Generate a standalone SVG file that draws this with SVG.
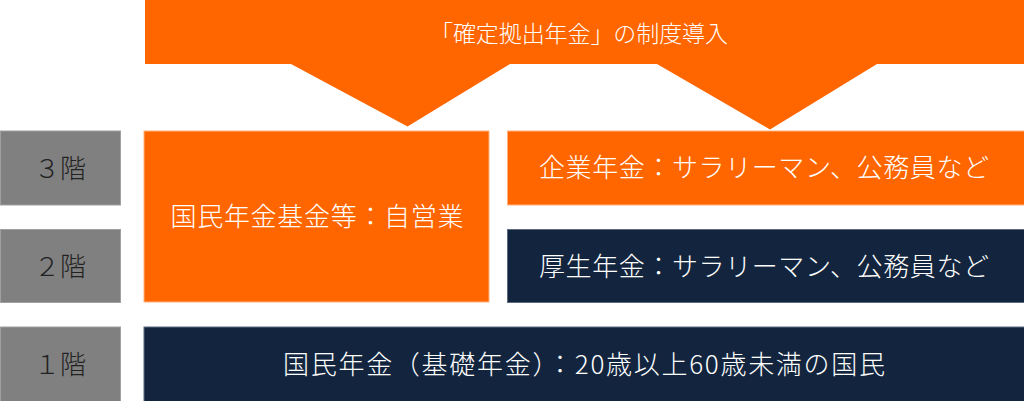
<svg xmlns="http://www.w3.org/2000/svg" width="1024" height="401" viewBox="0 0 1024 401">
<style>
.org{fill:#FF6600;stroke:#ffb27f;stroke-width:1}
.nav{fill:#13253E;stroke:#5d6b80;stroke-width:1}
.gry{fill:#808080;stroke:#a0a0a0;stroke-width:1}
.wt{fill:#ffffff;font-family:"Noto Sans CJK JP","Noto Sans",sans-serif;font-size:26px;font-weight:300}
.lb{fill:#222222;font-family:"Noto Sans CJK JP","Noto Sans",sans-serif;font-size:26px;font-weight:300;text-anchor:middle}
</style>
<rect width="1024" height="401" fill="#ffffff"/>
<g id="banner">
<polygon fill="#FF6600" points="145,0 1024,0 1024,64 877,64 770,129.5 657,64 510,64 407.5,126.5 291,64 145,64"/>
<text class="wt" x="430" y="42" style="font-size:23px" textLength="298" lengthAdjust="spacing">「確定拠出年金」の制度導入</text>
</g>
<g id="floor3">
<rect class="gry" x="0.5" y="131" width="120" height="74"/>
<text class="lb" x="60" y="178">３階</text>
</g>
<g id="floor2">
<rect class="gry" x="0.5" y="229.5" width="120" height="73"/>
<text class="lb" x="60" y="276">２階</text>
</g>
<g id="floor1">
<rect class="gry" x="0.5" y="327" width="120" height="75"/>
<text class="lb" x="60" y="374">１階</text>
</g>
<g id="kokumin-kikin">
<rect class="org" x="144" y="131" width="345" height="171"/>
<text class="wt" x="170.5" y="225.5" textLength="293" lengthAdjust="spacing">国民年金基金等：自営業</text>
</g>
<g id="kigyo">
<rect class="org" x="507.5" y="131" width="517" height="74"/>
<text class="wt" x="539" y="177" textLength="450" lengthAdjust="spacing">企業年金：サラリーマン、公務員など</text>
</g>
<g id="kosei">
<rect class="nav" x="507.5" y="229.5" width="517" height="73"/>
<text class="wt" x="539" y="276" textLength="450" lengthAdjust="spacing">厚生年金：サラリーマン、公務員など</text>
</g>
<g id="kokumin">
<rect class="nav" x="144" y="327" width="881" height="75"/>
<text class="wt" x="283" y="374" textLength="602" lengthAdjust="spacing">国民年金（基礎年金）：20歳以上60歳未満の国民</text>
</g>
<g id="connectors"></g>
</svg>
